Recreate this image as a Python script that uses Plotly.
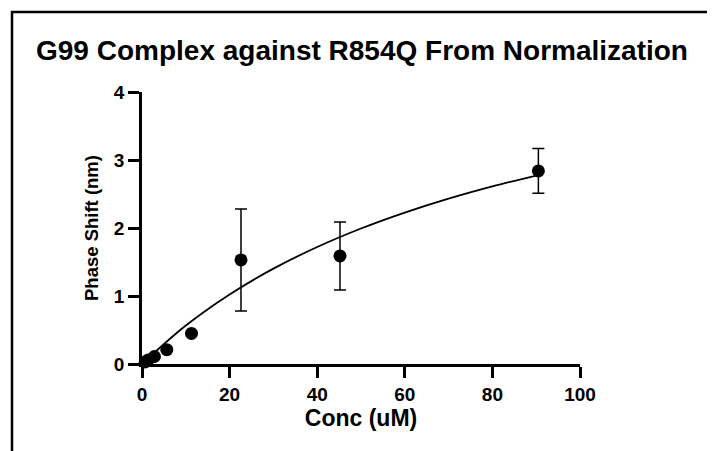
import plotly.graph_objects as go

# Data
conc = [0.71, 1.41, 2.83, 5.66, 11.3, 22.6, 45.2, 90.5]
shift = [0.03, 0.06, 0.11, 0.21, 0.45, 1.53, 1.59, 2.84]
err = [0, 0, 0, 0, 0, 0.75, 0.50, 0.33]

# Fitted curve at sample concentrations
fit_x = [0, 10, 20, 30, 40, 50, 60, 70, 80, 90.5]
fit_y = [0, 0.565, 1.023, 1.402, 1.721, 1.993, 2.227, 2.432, 2.612, 2.779]

x_ticks = [0, 20, 40, 60, 80, 100]
y_ticks = [0, 1, 2, 3, 4]

OFF = 8  # page body margin in the browser
W, H = 715 - OFF, 451 - OFF
L, R, T, B = 142 - OFF, 580 - OFF, 92 - OFF, 364 - OFF
FONT = "Arial, Liberation Sans, sans-serif"

fig = go.Figure()
fig.add_trace(go.Scatter(
    x=fit_x, y=fit_y, mode="lines", line=dict(color="black", width=1.8, shape="spline"),
    hoverinfo="skip", showlegend=False, cliponaxis=False))
fig.add_trace(go.Scatter(
    x=conc, y=shift, mode="markers",
    marker=dict(color="black", size=13, symbol="circle"),
    error_y=dict(type="data", array=err, visible=True, color="black", thickness=1.5, width=6),
    showlegend=False, cliponaxis=False))

def px_to_paper_x(px):
    return (px - OFF - L) / (R - L)

def px_to_paper_y(py):
    return (B - (py - OFF)) / (B - T)

fig.add_shape(type="rect", xref="paper", yref="paper",
              x0=px_to_paper_x(12), x1=px_to_paper_x(712.5),
              y0=px_to_paper_y(470), y1=px_to_paper_y(12),
              line=dict(color="black", width=2.5), fillcolor="rgba(0,0,0,0)", layer="below")

fig.update_layout(
    width=W, height=H,
    margin=dict(l=L, r=W - R, t=T, b=H - B, pad=0),
    paper_bgcolor="white", plot_bgcolor="white",
    font=dict(family=FONT, color="black"),
    title=dict(text="<b>G99 Complex against R854Q From Normalization</b>",
               font=dict(size=28, family=FONT, color="black"),
               x=(362 - OFF) / W, xref="container", xanchor="center",
               y=1 - (50 - OFF) / H, yref="container", yanchor="middle"),
    xaxis=dict(range=[0, 100], tickvals=x_ticks, ticktext=[str(v) for v in x_ticks],
               showline=True, linecolor="black", linewidth=2.5,
               ticks="outside", ticklen=11, tickwidth=2.5, tickcolor="black",
               showgrid=False, zeroline=False,
               tickfont=dict(size=19, family=FONT, color="black", weight="bold"),
               title=dict(text="<b>Conc (uM)</b>", font=dict(size=23, family=FONT), standoff=6)),
    yaxis=dict(range=[0, 4], tickvals=y_ticks, ticktext=[str(v) for v in y_ticks],
               showline=True, linecolor="black", linewidth=2.5,
               ticks="outside", ticklen=11, tickwidth=2.5, tickcolor="black",
               showgrid=False, zeroline=False,
               tickfont=dict(size=19, family=FONT, color="black", weight="bold"),
               title=dict(text="<b>Phase Shift (nm)</b>", font=dict(size=18.5, family=FONT), standoff=11)),
)

fig.write_html("out.html")
